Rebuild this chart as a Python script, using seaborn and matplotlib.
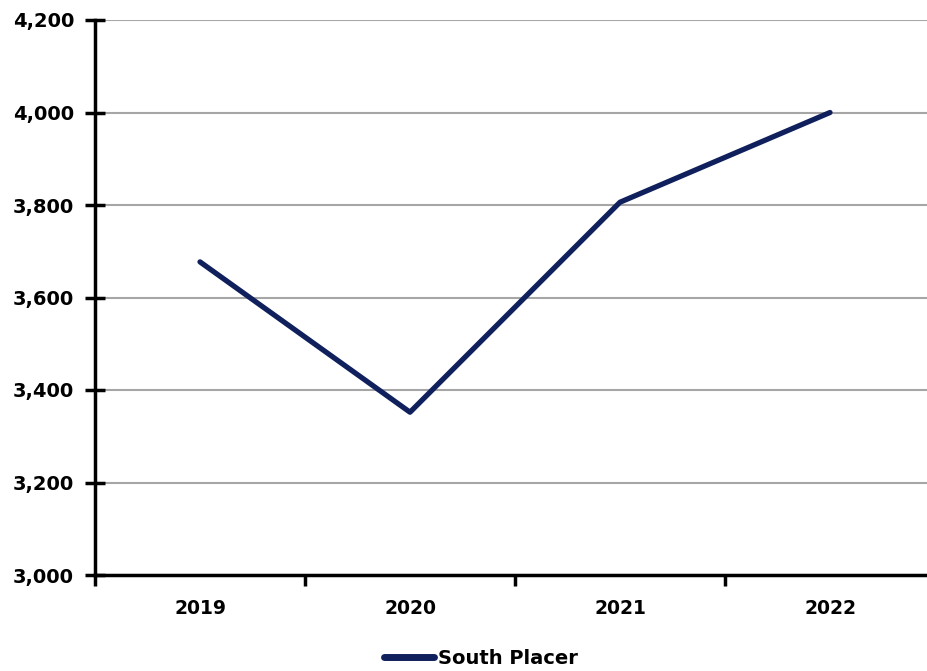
import matplotlib
matplotlib.use("Agg")
import matplotlib.pyplot as plt
import seaborn as sns
import pandas as pd
from matplotlib.ticker import FuncFormatter
from matplotlib.lines import Line2D

years = ["2019", "2020", "2021", "2022"]
values = [3677, 3352, 3806, 4000]
series_name = "South Placer"

df = pd.DataFrame({"Year": years, "Value": values, "Series": series_name})

sns.set_theme(style="white")
plt.rcParams["font.family"] = ["DejaVu Sans"]
plt.rcParams["text.color"] = "black"

fig = plt.figure(figsize=(9.27, 6.71), dpi=100)
ax = fig.add_axes([95/927, 1-575/671, (935-95)/927, (575-20)/671])

color = "#10205C"
sns.lineplot(data=df, x="Year", y="Value", hue="Series", palette=[color],
             ax=ax, linewidth=3.8, sort=False, solid_capstyle="round", legend=False)

ax.set_xlim(-0.5, 3.5)
ax.set_ylim(3000, 4200)
ax.set_yticks(range(3000, 4201, 200))
ax.yaxis.set_major_formatter(FuncFormatter(lambda v, p: f"{int(v):,}"))
ax.grid(axis="y", color="#A6A6A6", linewidth=1.5)
ax.set_axisbelow(True)

ax.set_xticks(range(len(years)))
ax.set_xticklabels(years)
ax.tick_params(axis="x", which="major", bottom=True, length=0, pad=17, labelsize=13.5)
ax.set_xticks([-0.5, 0.5, 1.5, 2.5, 3.5], minor=True)
ax.tick_params(axis="x", which="minor", bottom=True, length=8, width=2.5,
               color="black", direction="out")
ax.tick_params(axis="y", left=True, length=14, width=2.5, color="black",
               direction="inout", labelsize=14, pad=8)
for lbl in ax.get_xticklabels() + ax.get_yticklabels():
    lbl.set_fontweight("bold")
    lbl.set_color("black")

for s in ["top", "right"]:
    ax.spines[s].set_visible(False)
for s in ["left", "bottom"]:
    ax.spines[s].set_color("black")
    ax.spines[s].set_linewidth(2.5)

ax.set_xlabel("")
ax.set_ylabel("")

handle = Line2D([0], [0], color=color, linewidth=5, solid_capstyle="round")
leg = fig.legend([handle], [series_name], loc="center", bbox_to_anchor=(481/927, 1-658/671),
                 frameon=False, prop={"weight": "bold", "size": 14}, handlelength=2.6,
                 handletextpad=0.2)
for t in leg.get_texts():
    t.set_color("black")

fig.savefig("out.png", dpi=100)
